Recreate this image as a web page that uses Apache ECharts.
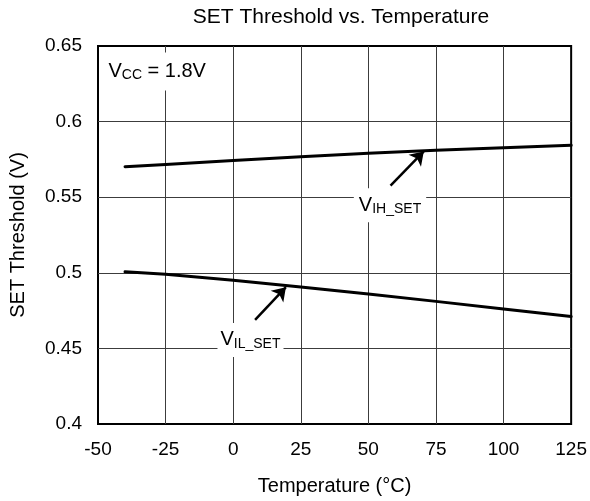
<!DOCTYPE html>
<html>
<head>
<meta charset="utf-8">
<script src="https://cdn.jsdelivr.net/npm/echarts@6/dist/echarts.min.js"></script>
<style>html,body{margin:0;padding:0;background:#fff;}#c{width:590px;height:501px;}</style>
</head>
<body>
<div id="c"></div>
<script>
const temps = [-40, -25, 0, 25, 50, 75, 100, 125];
const vihSet = [0.5702, 0.5717, 0.5743, 0.5768, 0.5790, 0.5810, 0.5827, 0.5843];
const vilSet = [0.5007, 0.4990, 0.4950, 0.4906, 0.4860, 0.4811, 0.4761, 0.4711];
const xTicks = [-50, -25, 0, 25, 50, 75, 100, 125];
const yTicks = [0.4, 0.45, 0.5, 0.55, 0.6, 0.65];

const FONT = "'Liberation Sans', Arial, sans-serif";
const chart = echarts.init(document.getElementById('c'));

function zip(xs, ys) { return xs.map((x, i) => [x, ys[i]]); }

const subRich = {
  v: { fontSize: 20, lineHeight: 22, fontFamily: FONT, color: '#000' },
  s: { fontSize: 14, lineHeight: 14, verticalAlign: 'bottom', fontFamily: FONT, color: '#000' }
};

function labelPoint(coord, text, pad) {
  return {
    coord: coord,
    symbol: 'circle', symbolSize: 1,
    itemStyle: { color: 'rgba(0,0,0,0)' },
    label: {
      show: true, position: 'inside', formatter: text,
      backgroundColor: '#fff', padding: pad, rich: subRich
    }
  };
}

const arrowLine = {
  silent: true,
  symbol: ['none', 'arrow'],
  symbolSize: 13,
  lineStyle: { color: '#000', width: 2.5, type: 'solid' },
  itemStyle: { color: '#000' },
  label: { show: false },
  emphasis: { disabled: true }
};

chart.setOption({
  animation: false,
  title: {
    text: 'SET Threshold vs. Temperature',
    left: 336, top: 2, textAlign: 'center',
    textStyle: { fontFamily: FONT, fontSize: 21, fontWeight: 'normal', color: '#000' }
  },
  grid: { left: 98, right: 17, top: 46, bottom: 77, show: true, borderColor: '#000', borderWidth: 2, backgroundColor: '#fff' },
  xAxis: {
    type: 'value', min: -50, max: 125, interval: 25,
    name: 'Temperature (°C)', nameLocation: 'middle', nameGap: 52,
    nameTextStyle: { fontFamily: FONT, fontSize: 20, color: '#000' },
    axisLine: { show: false }, axisTick: { show: false },
    axisLabel: { margin: 16, fontFamily: FONT, fontSize: 19, color: '#000',
      customValues: xTicks, formatter: v => String(v) },
    splitLine: { show: true, showMinLine: false, showMaxLine: false, lineStyle: { color: '#3c3c3c', width: 1 } }
  },
  yAxis: {
    type: 'value', min: 0.4, max: 0.65, interval: 0.05,
    name: 'SET Threshold (V)', nameLocation: 'middle', nameGap: 70, nameRotate: 90,
    nameTextStyle: { fontFamily: FONT, fontSize: 20, color: '#000' },
    axisLine: { show: false }, axisTick: { show: false },
    axisLabel: { margin: 16, fontFamily: FONT, fontSize: 19, color: '#000',
      customValues: yTicks, formatter: v => String(parseFloat(v.toFixed(2))) },
    splitLine: { show: true, showMinLine: false, showMaxLine: false, lineStyle: { color: '#3c3c3c', width: 1 } }
  },
  series: [
    {
      name: 'VIH_SET', type: 'line', data: zip(temps, vihSet),
      showSymbol: false, smooth: false,
      lineStyle: { color: '#000', width: 3, join: 'round', cap: 'round' },
      markLine: Object.assign({}, arrowLine, { data: [[{ coord: [58.2, 0.5576] }, { coord: [70.5, 0.5803] }]] }),
      markPoint: { silent: true, data: [
        labelPoint([58.0, 0.5447], '{v|V}{s|IH_SET}', [6, 5, 6, 5]),
        labelPoint([-28.1, 0.6331], '{v|V}{s|CC}{v| = 1.8V}', [8, 6, 8, 6])
      ] }
    },
    {
      name: 'VIL_SET', type: 'line', data: zip(temps, vilSet),
      showSymbol: false, smooth: false,
      lineStyle: { color: '#000', width: 3, join: 'round', cap: 'round' },
      markLine: Object.assign({}, arrowLine, { data: [[{ coord: [8.1, 0.4689] }, { coord: [19.5, 0.4905] }]] }),
      markPoint: { silent: true, data: [
        labelPoint([6.4, 0.4556], '{v|V}{s|IL_SET}', [6, 3, 6, 3])
      ] }
    }
  ]
});
</script>
</body>
</html>
